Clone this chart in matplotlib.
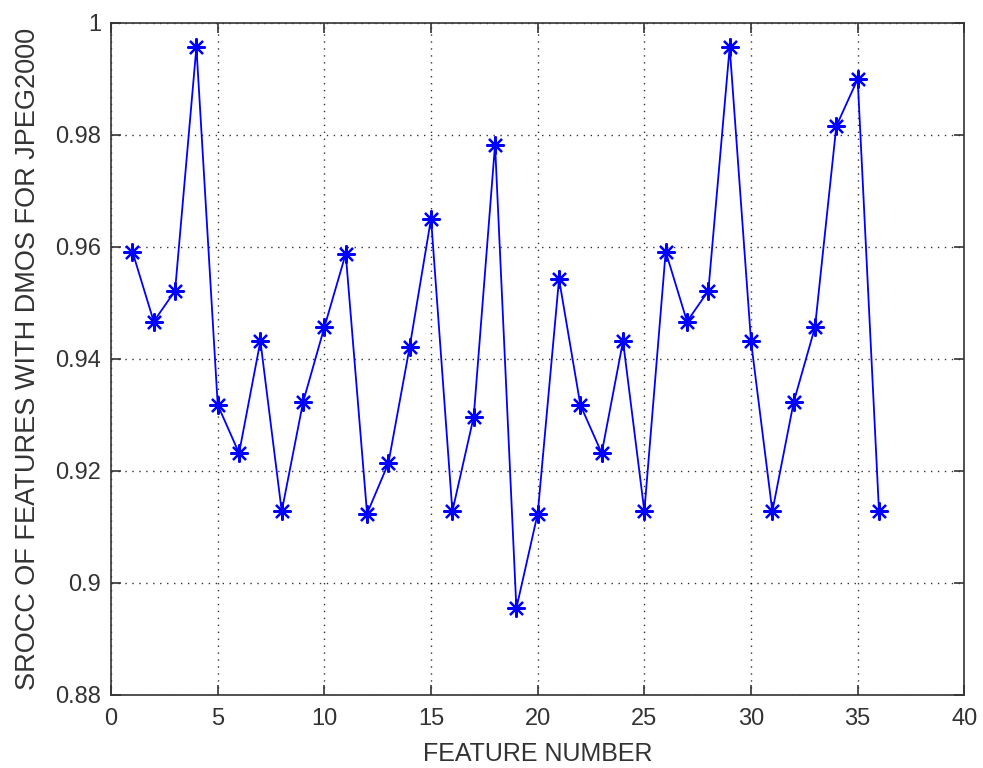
import matplotlib
matplotlib.use("Agg")
import matplotlib.pyplot as plt

feature_number = list(range(1, 37))
srocc = [0.9591, 0.9466, 0.9521, 0.9956, 0.9317, 0.9231, 0.9431, 0.9127, 0.9322,
         0.9456, 0.9587, 0.9123, 0.9213, 0.9421, 0.9650, 0.9127, 0.9296, 0.9782,
         0.8954, 0.9123, 0.9542, 0.9317, 0.9231, 0.9431, 0.9127, 0.9591, 0.9466,
         0.9521, 0.9956, 0.9431, 0.9127, 0.9322, 0.9456, 0.9815, 0.9899, 0.9127]
x_ticks = [0, 5, 10, 15, 20, 25, 30, 35, 40]
y_ticks = [0.88, 0.90, 0.92, 0.94, 0.96, 0.98, 1.00]
y_tick_labels = ["0.88", "0.9", "0.92", "0.94", "0.96", "0.98", "1"]

plt.rcParams['font.family'] = ['Liberation Sans', 'DejaVu Sans']

fig = plt.figure(figsize=(9.83, 7.68), dpi=100)
ax = fig.add_axes([0.113, 0.0957, 0.868, 0.875])
ax.plot(feature_number, srocc, color='#0000ff', linewidth=1.3, marker=(8, 2, 0),
        markersize=13, markeredgewidth=1.6)
ax.set_xlim(0, 40)
ax.set_ylim(0.88, 1.0)
ax.set_xticks(x_ticks)
ax.set_yticks(y_ticks)
ax.set_yticklabels(y_tick_labels)
ax.grid(True, linestyle=(0, (1, 4)), color='black', linewidth=1.0, alpha=0.8)
ax.tick_params(direction='in', top=True, right=True, length=7, width=1.2,
               labelsize=17, colors='#333333', labelcolor='#333333')
ax.tick_params(axis='x', pad=10)
ax.tick_params(axis='y', pad=7)
for s in ax.spines.values():
    s.set_linewidth(1.2)
    s.set_color('#333333')
ax.set_xlabel('FEATURE NUMBER', fontsize=18, color='#333333', labelpad=8)
ax.set_ylabel('SROCC OF FEATURES WITH DMOS FOR JPEG2000', fontsize=19.5,
              color='#333333', labelpad=10)
fig.savefig('out.png', dpi=100)
